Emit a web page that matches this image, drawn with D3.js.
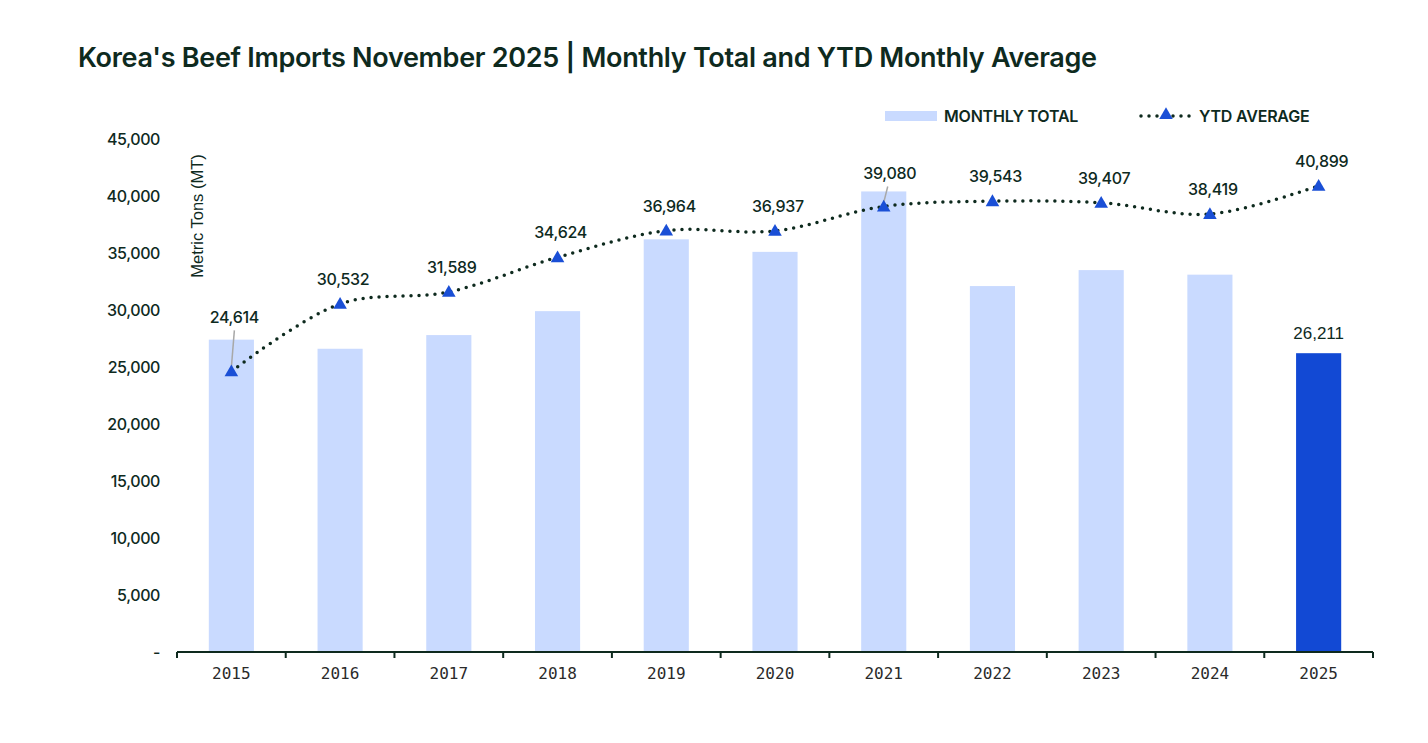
<!DOCTYPE html>
<html>
<head>
<meta charset="utf-8">
<script src="https://cdn.jsdelivr.net/npm/d3@7"></script>
<style>
  body { margin: 0; background: #fff; }
  svg text { fill: #0e2a1e; }
</style>
</head>
<body>
<svg id="chart" width="1428" height="743"></svg>
<script>
/* Korea beef imports – bars + YTD average line */

const years    = ["2015","2016","2017","2018","2019","2020","2021","2022","2023","2024","2025"];
const monthly  = [27400, 26600, 27800, 29900, 36200, 35100, 40400, 32100, 33500, 33100, 26211];
const ytdAvg   = [24614, 30532, 31589, 34624, 36964, 36937, 39080, 39543, 39407, 38419, 40899];
const yTicks   = [0, 5000, 10000, 15000, 20000, 25000, 30000, 35000, 40000, 45000];

const svg = d3.select("#chart");
const fmt = d3.format(",");
const FONT = "Inter, 'Noto Sans', sans-serif";

const x = d3.scaleBand().domain(years).range([177, 1373])
  .paddingInner(0.585).paddingOuter(0.2925);
const xStep = d3.scaleBand().domain(years).range([177, 1373]);
const y = d3.scaleLinear().domain([0, 45000]).range([652, 139]);

/* title */
svg.append("text")
  .attr("x", 78).attr("y", 67)
  .attr("font-family", FONT)
  .attr("font-size", 27).attr("font-weight", 600)
  .attr("letter-spacing", -0.3)
  .text("Korea's Beef Imports November 2025 | Monthly Total and YTD Monthly Average");

/* y tick labels */
svg.append("g").selectAll("text")
  .data(yTicks).enter().append("text")
    .attr("x", 160).attr("y", d => y(d) + 6)
    .attr("text-anchor", "end")
    .attr("font-family", FONT)
    .attr("font-size", 16).attr("font-weight", 500)
    .attr("letter-spacing", -0.4)
    .text(d => d === 0 ? "-" : fmt(d));

svg.append("text")
  .attr("transform", "translate(203,216) rotate(-90)")
  .attr("text-anchor", "middle")
  .attr("font-family", "'Liberation Sans', Arial, sans-serif")
  .attr("font-size", 16.5)
  .text("Metric Tons (MT)");

/* bars */
svg.append("g").selectAll("rect")
  .data(years).enter().append("rect")
    .attr("x", d => x(d))
    .attr("width", x.bandwidth())
    .attr("y", (d, i) => y(monthly[i]))
    .attr("height", (d, i) => y(0) - y(monthly[i]))
    .attr("fill", (d, i) => i === years.length - 1 ? "#1249d4" : "#c9daff");

/* bar label for last year */
const li = years.length - 1;
svg.append("text")
  .attr("x", x(years[li]) + x.bandwidth() / 2)
  .attr("y", y(monthly[li]) - 14)
  .attr("text-anchor", "middle")
  .attr("font-family", "'Liberation Sans', Arial, sans-serif")
  .attr("font-size", 17)
  .text(fmt(monthly[li]));

/* x axis */
const xAxis = svg.append("g");
xAxis.append("line")
  .attr("x1", 177).attr("x2", 1373)
  .attr("y1", y(0)).attr("y2", y(0))
  .attr("stroke", "#0e2a1e").attr("stroke-width", 2);
xAxis.selectAll("line.tick")
  .data(years.concat(["end"])).enter().append("line")
    .attr("class", "tick")
    .attr("x1", (d, i) => i < years.length ? xStep(d) : 1373)
    .attr("x2", (d, i) => i < years.length ? xStep(d) : 1373)
    .attr("y1", y(0)).attr("y2", y(0) + 6)
    .attr("stroke", "#0e2a1e").attr("stroke-width", 2);
xAxis.selectAll("text")
  .data(years).enter().append("text")
    .attr("x", d => x(d) + x.bandwidth() / 2)
    .attr("y", 679)
    .attr("text-anchor", "middle")
    .attr("font-family", "'DejaVu Sans Mono', monospace")
    .attr("font-size", 16)
    .style("fill", "#2a2a2a")
    .text(d => d);

/* YTD average line */
const cx = d => x(d) + x.bandwidth() / 2;
const line = d3.line()
  .x((d, i) => cx(years[i]))
  .y(d => y(d))
  .curve(d3.curveCatmullRom.alpha(0.5));

svg.append("path")
  .datum(ytdAvg)
  .attr("d", line)
  .attr("fill", "none")
  .attr("stroke", "#0e2a1e")
  .attr("stroke-width", 3.5)
  .attr("stroke-linecap", "round")
  .attr("stroke-dasharray", "0 8");

const tri = d3.symbol().type(d3.symbolTriangle).size(80);

/* label offsets (baseline above point); two labels pushed up with leaders */
const labelOffset = [48, 19, 19, 19, 19, 19, 27, 19, 19, 19, 19];
const leaders = ytdAvg.map((v, i) => ({ v, i })).filter(d => labelOffset[d.i] > 19);
svg.append("g").selectAll("line")
  .data(leaders).enter().append("line")
    .attr("x1", d => cx(years[d.i]))
    .attr("y1", d => y(d.v) - 4)
    .attr("x2", d => cx(years[d.i]) + (d.i === 0 ? 3 : 4))
    .attr("y2", d => y(d.v) - labelOffset[d.i] + 7)
    .attr("stroke", "#a8a8a8").attr("stroke-width", 1.5);

svg.append("g").selectAll("path")
  .data(ytdAvg).enter().append("path")
    .attr("d", tri)
    .attr("transform", (d, i) => `translate(${cx(years[i])},${y(d) + 1})`)
    .attr("fill", "#1a4fd6");

svg.append("g").selectAll("text")
  .data(ytdAvg).enter().append("text")
    .attr("x", (d, i) => cx(years[i]) + (i === 6 ? 6 : 3))
    .attr("y", (d, i) => y(d) - labelOffset[i])
    .attr("text-anchor", "middle")
    .attr("font-family", FONT)
    .attr("font-size", 16).attr("font-weight", 500)
    .attr("letter-spacing", -0.3)
    .text(d => fmt(d));

/* legend */
const lg = svg.append("g");
lg.append("rect")
  .attr("x", 885).attr("y", 111).attr("width", 52).attr("height", 10)
  .attr("fill", "#c9daff");
lg.append("text")
  .attr("x", 944).attr("y", 122)
  .attr("font-family", FONT)
  .attr("font-size", 16).attr("font-weight", 600)
  .attr("letter-spacing", -0.2)
  .text("MONTHLY TOTAL");
lg.append("line")
  .attr("x1", 1141).attr("x2", 1191).attr("y1", 116).attr("y2", 116)
  .attr("stroke", "#0e2a1e").attr("stroke-width", 3.5)
  .attr("stroke-linecap", "round").attr("stroke-dasharray", "0 8");
lg.append("path")
  .attr("d", tri)
  .attr("transform", "translate(1166,115)")
  .attr("fill", "#1a4fd6");
lg.append("text")
  .attr("x", 1199).attr("y", 122)
  .attr("font-family", FONT)
  .attr("font-size", 16).attr("font-weight", 600)
  .attr("letter-spacing", -0.2)
  .text("YTD AVERAGE");
</script>
</body>
</html>
